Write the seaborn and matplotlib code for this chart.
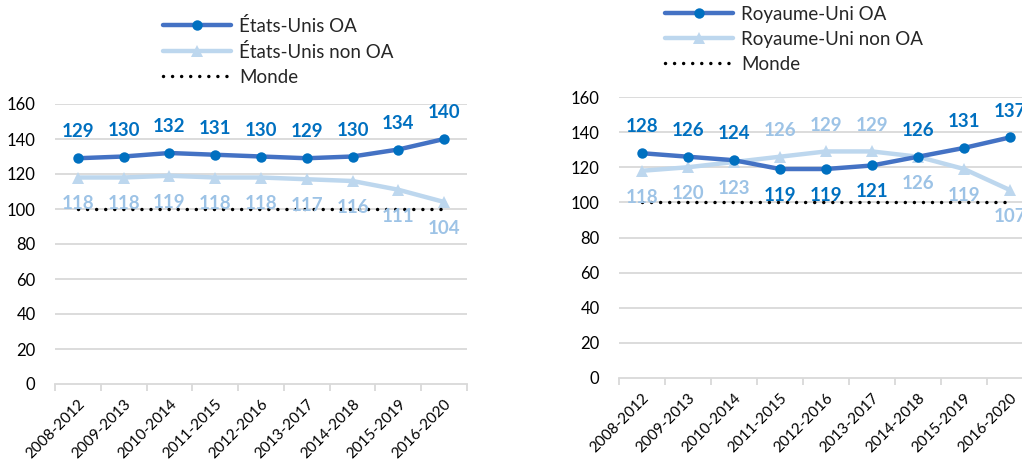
import matplotlib
matplotlib.use("Agg")
import matplotlib.pyplot as plt
from matplotlib.lines import Line2D
import seaborn as sns
import numpy as np

periods = ["2008-2012", "2009-2013", "2010-2014", "2011-2015", "2012-2016",
           "2013-2017", "2014-2018", "2015-2019", "2016-2020"]
us_oa = [129, 130, 132, 131, 130, 129, 130, 134, 140]
us_non_oa = [118, 118, 119, 118, 118, 117, 116, 111, 104]
uk_oa = [128, 126, 124, 119, 119, 121, 126, 131, 137]
uk_non_oa = [118, 120, 123, 126, 129, 129, 126, 119, 107]
world = [100] * 9
yticks = [0, 20, 40, 60, 80, 100, 120, 140, 160]

OA_LINE = "#4472C4"
OA_MARK = "#0070C0"
NON_LINE = "#BDD7EE"
NON_LABEL = "#9DC3E6"
GRID = "#D9D9D9"
DOTS = (0, (0.01, 2.6))

sns.set_theme(style="white")
plt.rcParams["font.family"] = ["Lato", "DejaVu Sans"]

fig = plt.figure(figsize=(10.22, 4.66), dpi=100)
axL = fig.add_axes([55/1022, 82/466, 412/1022, 280/466])
axR = fig.add_axes([619/1022, 88/466, 414/1022, 281/466])


def draw(ax, oa, non, oa_name, non_name, label_rule):
    x = np.arange(len(periods))
    for yv in yticks[1:]:
        ax.axhline(yv, color=GRID, lw=1.3, zorder=0)
    sns.lineplot(x=x, y=non, ax=ax, color=NON_LINE, lw=3.2, marker="^",
                 markersize=8.5, markeredgewidth=0, markerfacecolor=NON_LINE, zorder=3)
    sns.lineplot(x=x, y=oa, ax=ax, color=OA_LINE, lw=3.2, marker="o",
                 markersize=7.5, markeredgewidth=0, markerfacecolor=OA_MARK, zorder=4)
    sns.lineplot(x=x, y=world, ax=ax, color="black", lw=2.5,
                 linestyle=DOTS, dash_capstyle="round", zorder=5)
    for i in x:
        up_oa, up_non = label_rule(oa[i], non[i])
        ax.annotate(str(oa[i]), (i, oa[i]), xytext=(0, 19 if up_oa else -19),
                    textcoords="offset points", ha="center", va="center",
                    color=OA_MARK, fontsize=13.5, fontweight="bold", zorder=6,
                    annotation_clip=False)
        ax.annotate(str(non[i]), (i, non[i]), xytext=(0, 19 if up_non else -19),
                    textcoords="offset points", ha="center", va="center",
                    color=NON_LABEL, fontsize=13.5, fontweight="bold", zorder=6,
                    annotation_clip=False)
    ax.set_xlim(-0.5, len(periods) - 0.5)
    ax.set_ylim(0, 160)
    ax.set_yticks(yticks)
    ax.set_yticklabels([str(v) for v in yticks], fontsize=12, color="#000000")
    ax.set_xticks(x)
    ax.set_xticklabels(periods, rotation=45, ha="right", rotation_mode="anchor",
                       fontsize=11, color="#000000")
    ax.set_xticks(np.arange(-0.5, len(periods)), minor=True)
    ax.tick_params(axis="x", which="major", length=0, pad=9)
    ax.tick_params(axis="x", which="minor", length=5, width=1.3, color=GRID, bottom=True)
    ax.tick_params(axis="y", length=0, pad=14)
    for s in ["top", "right", "left"]:
        ax.spines[s].set_visible(False)
    ax.spines["bottom"].set_color(GRID)
    ax.spines["bottom"].set_linewidth(1.3)
    ax.set_xlabel("")
    ax.set_ylabel("")
    ax.grid(False)
    handles = [
        Line2D([], [], color=OA_LINE, lw=3.2, marker="o", markersize=7.5,
               markeredgewidth=0, markerfacecolor=OA_MARK),
        Line2D([], [], color=NON_LINE, lw=3.2, marker="^", markersize=8.5,
               markeredgewidth=0, markerfacecolor=NON_LINE),
        Line2D([], [], color="black", lw=2.5, linestyle=DOTS,
               dash_capstyle="round"),
    ]
    return handles, [oa_name, non_name, "Monde"]


hL, lL = draw(axL, us_oa, us_non_oa, "États-Unis OA", "États-Unis non OA",
              lambda a, b: (True, False))
hR, lR = draw(axR, uk_oa, uk_non_oa, "Royaume-Uni OA", "Royaume-Uni non OA",
              lambda a, b: (a >= b, b > a))

leg_kw = dict(loc="upper left", frameon=False, fontsize=13.5, handlelength=3.6,
              handletextpad=0.45, labelspacing=0.42, borderpad=0, borderaxespad=0)
fig.legend(hL, lL, bbox_to_anchor=(163/1022, 1 - 17/466), **leg_kw)
fig.legend(hR, lR, bbox_to_anchor=(665/1022, 1 - 6/466), **leg_kw)

fig.savefig("out.png", dpi=100)
